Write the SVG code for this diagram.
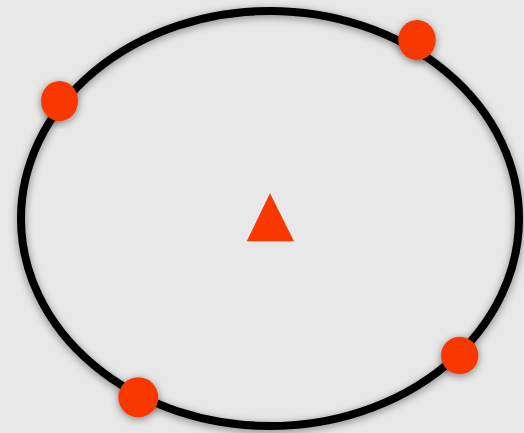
<svg xmlns="http://www.w3.org/2000/svg" width="524" height="433" viewBox="0 0 524 433">
<defs>
<filter id="sh" x="-20%" y="-20%" width="140%" height="140%">
<feGaussianBlur in="SourceAlpha" stdDeviation="4"/>
<feOffset dx="0" dy="2" result="b"/>
<feComponentTransfer><feFuncA type="linear" slope="0.45"/></feComponentTransfer>
<feMerge><feMergeNode/><feMergeNode in="SourceGraphic"/></feMerge>
</filter>
<style>
.dot{fill:#f93800;filter:url(#sh)}
</style>
</defs>
<rect width="524" height="433" fill="#e8e8e8"/>
<g id="ring" filter="url(#sh)">
<ellipse cx="270" cy="218.5" rx="249" ry="207.5" fill="none" stroke="#000" stroke-width="8"/>
</g>
<g id="center">
<polygon points="270,193.3 246.7,241.3 294,241.3" fill="#f93800"/>
</g>
<g id="p1"><ellipse class="dot" cx="59.5" cy="101" rx="18.5" ry="20"/></g>
<g id="p2"><ellipse class="dot" cx="417" cy="40" rx="18.7" ry="20"/></g>
<g id="p3"><ellipse class="dot" cx="138.3" cy="397.3" rx="20" ry="20"/></g>
<g id="p4"><ellipse class="dot" cx="459.7" cy="355.5" rx="18.7" ry="18.8"/></g>
</svg>
